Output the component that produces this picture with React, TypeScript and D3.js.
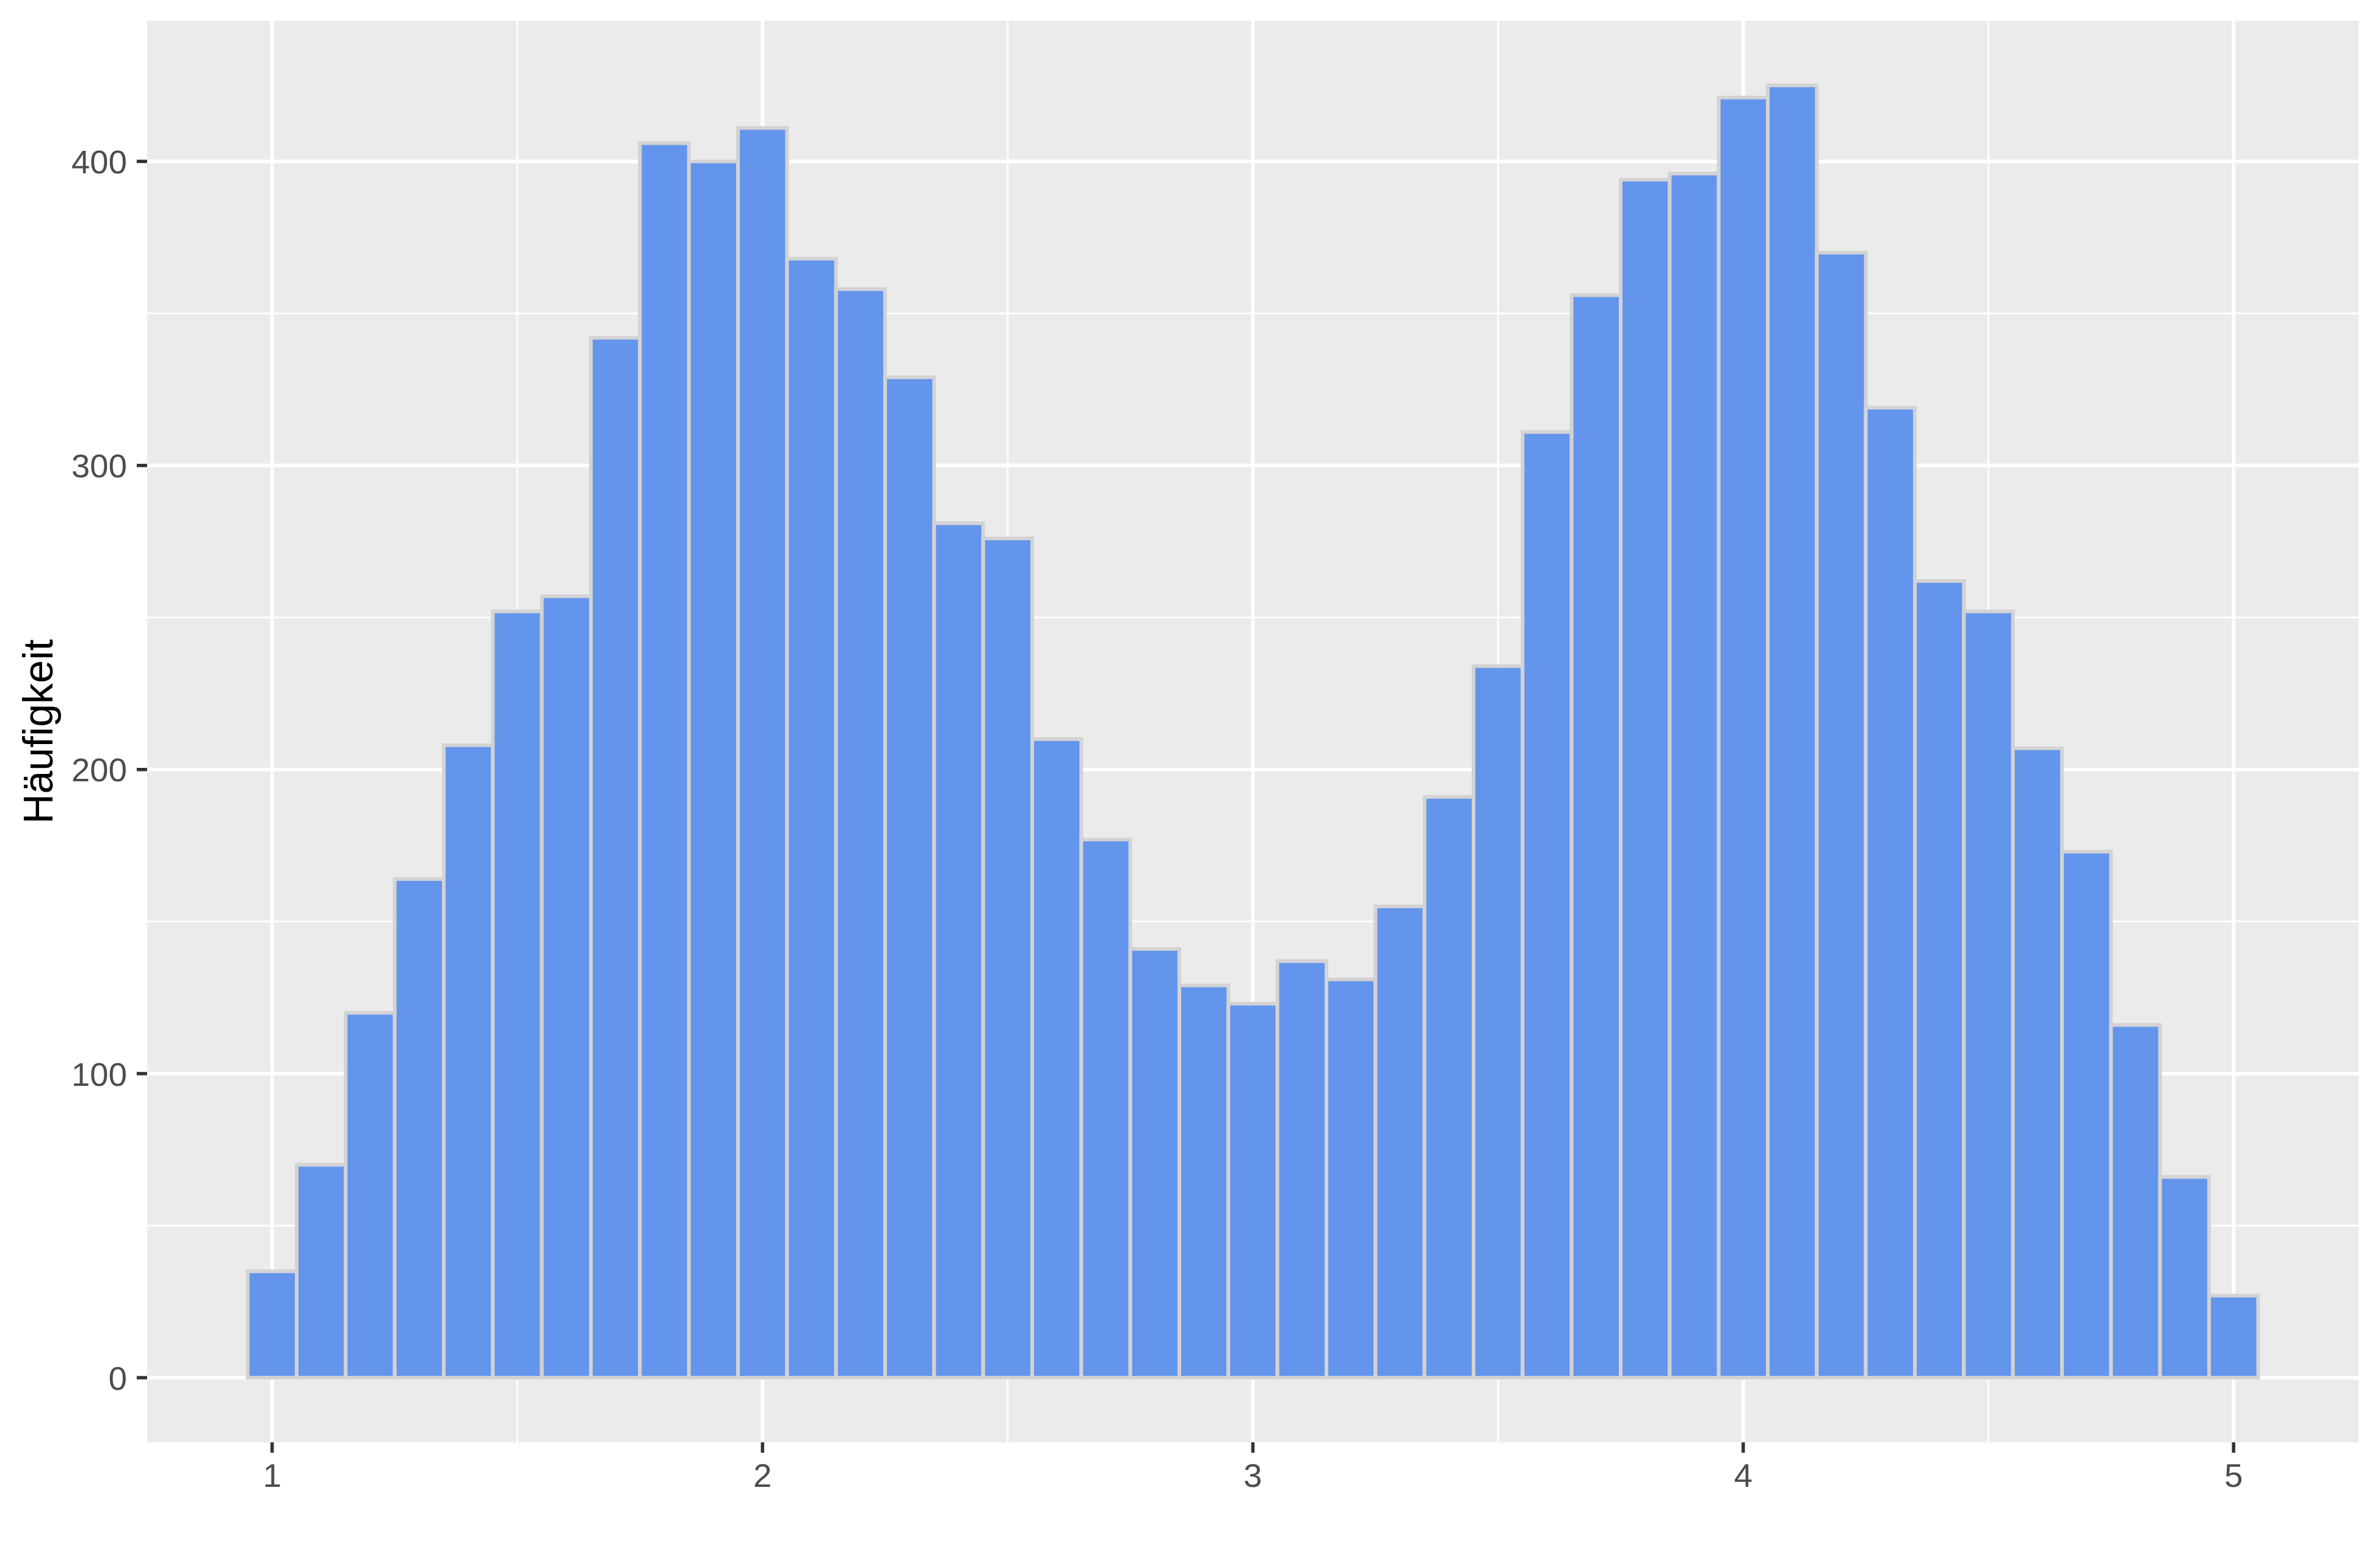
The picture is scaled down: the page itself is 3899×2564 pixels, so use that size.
import React from 'react';
import * as d3 from 'd3';

// histogram bins (centre of each bin, width 0.1)
const binWidth = 0.1;
const binCenters = [
  1.0, 1.1, 1.2, 1.3, 1.4, 1.5, 1.6, 1.7, 1.8, 1.9,
  2.0, 2.1, 2.2, 2.3, 2.4, 2.5, 2.6, 2.7, 2.8, 2.9,
  3.0, 3.1, 3.2, 3.3, 3.4, 3.5, 3.6, 3.7, 3.8, 3.9,
  4.0, 4.1, 4.2, 4.3, 4.4, 4.5, 4.6, 4.7, 4.8, 4.9,
  5.0,
];
const counts = [
  35, 70, 120, 164, 208, 252, 257, 342, 406, 400,
  411, 368, 358, 329, 281, 276, 210, 177, 141, 129,
  123, 137, 131, 155, 191, 234, 311, 356, 394, 396,
  421, 425, 370, 319, 262, 252, 207, 173, 116, 66,
  27,
];

const xTicks = [1, 2, 3, 4, 5];
const xMinor = [1.5, 2.5, 3.5, 4.5];
const yTicks = [0, 100, 200, 300, 400];
const yMinor = [50, 150, 250, 350];
const yTitle = 'Häufigkeit';

const width = 3899;
const height = 2564;
const panel = { left: 241, right: 3864, top: 34, bottom: 2363 };

const font = '"Liberation Sans", Arial, sans-serif';

const App = () => {
  const xMin = binCenters[0] - binWidth / 2;
  const xMax = binCenters[binCenters.length - 1] + binWidth / 2;
  const xPad = (xMax - xMin) * 0.05;
  const x = d3
    .scaleLinear()
    .domain([xMin - xPad, xMax + xPad])
    .range([panel.left, panel.right]);

  const yMaxData = d3.max(counts) as number;
  const y = d3
    .scaleLinear()
    .domain([-yMaxData * 0.05, yMaxData * 1.05])
    .range([panel.bottom, panel.top]);

  const bars = binCenters.map((c, i) => ({ c, v: counts[i] }));

  return (
    <svg
      width={width}
      height={height}
      style={{ position: 'absolute', left: 0, top: 0, background: '#ffffff' }}
    >
      <rect x={0} y={0} width={width} height={height} fill="#ffffff" />
      <rect
        x={panel.left}
        y={panel.top}
        width={panel.right - panel.left}
        height={panel.bottom - panel.top}
        fill="#EBEBEB"
      />

      {/* minor grid */}
      {yMinor.map(t => (
        <line key={'ym' + t} x1={panel.left} x2={panel.right} y1={y(t)} y2={y(t)} stroke="#ffffff" strokeWidth={3} />
      ))}
      {xMinor.map(t => (
        <line key={'xm' + t} x1={x(t)} x2={x(t)} y1={panel.top} y2={panel.bottom} stroke="#ffffff" strokeWidth={3} />
      ))}
      {/* major grid */}
      {yTicks.map(t => (
        <line key={'yg' + t} x1={panel.left} x2={panel.right} y1={y(t)} y2={y(t)} stroke="#ffffff" strokeWidth={6} />
      ))}
      {xTicks.map(t => (
        <line key={'xg' + t} x1={x(t)} x2={x(t)} y1={panel.top} y2={panel.bottom} stroke="#ffffff" strokeWidth={6} />
      ))}

      {/* bars */}
      <g>
        {bars.map(d => (
          <rect
            key={d.c}
            x={x(d.c - binWidth / 2)}
            width={x(d.c + binWidth / 2) - x(d.c - binWidth / 2)}
            y={y(d.v)}
            height={y(0) - y(d.v)}
            fill="#6495ED"
            stroke="#D3D3D3"
            strokeWidth={6}
          />
        ))}
      </g>

      {/* y axis */}
      {yTicks.map(t => (
        <g key={'yt' + t}>
          <line x1={panel.left - 17} x2={panel.left} y1={y(t)} y2={y(t)} stroke="#333333" strokeWidth={5.5} />
          <text
            x={208}
            y={y(t)}
            dy="0.36em"
            textAnchor="end"
            fontFamily={font}
            fontSize={54.5}
            fill="#4D4D4D"
          >
            {t}
          </text>
        </g>
      ))}

      {/* x axis */}
      {xTicks.map(t => (
        <g key={'xt' + t}>
          <line x1={x(t)} x2={x(t)} y1={panel.bottom} y2={panel.bottom + 17} stroke="#333333" strokeWidth={5.5} />
          <text
            x={x(t)}
            y={2436}
            textAnchor="middle"
            fontFamily={font}
            fontSize={54.5}
            fill="#4D4D4D"
          >
            {t}
          </text>
        </g>
      ))}

      <text
        transform={`translate(86, ${(panel.top + panel.bottom) / 2}) rotate(-90)`}
        textAnchor="middle"
        fontFamily={font}
        fontSize={68}
        fill="#000000"
      >
        {yTitle}
      </text>
    </svg>
  );
};

export default App;
